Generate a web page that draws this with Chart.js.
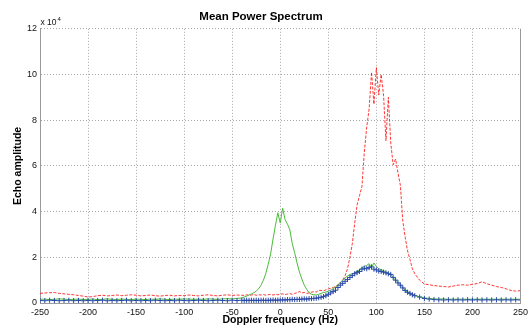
<!DOCTYPE html>
<html>
<head>
<meta charset="utf-8">
<title>Mean Power Spectrum</title>
<script src="https://cdn.jsdelivr.net/npm/chart.js@4"></script>
<style>
  html, body { margin: 0; padding: 0; background: #fff; }
  canvas { display: block; }
</style>
</head>
<body>
<canvas id="spectrumChart" width="532" height="326"></canvas>
<script>
// Doppler frequency axis (Hz), finer spacing around the peaks
const freqHz = [
  -250, -245, -240, -235, -230, -225, -220, -215, -210, -205, -200,
  -195, -190, -185, -180, -175, -170, -165, -160, -155, -150, -145,
  -140, -135, -130, -125, -120, -115, -110, -105, -100, -95, -90,
  -85, -80, -75, -70, -65, -60, -55, -50, -45, -40,
  -37.5, -35, -32.5, -30, -27.5, -25, -22.5, -20, -17.5, -15, -12.5,
  -10, -7.5, -5, -2.5, 0, 2.5, 5, 7.5, 10, 12.5, 15,
  17.5, 20, 22.5, 25, 27.5, 30, 32.5, 35, 37.5, 40, 42.5,
  45, 47.5, 50, 52.5, 55, 57.5, 60, 62.5, 65, 67.5, 70,
  72.5, 75, 77.5, 80, 82.5, 85, 87.5, 90, 92.5, 95, 97.5,
  100, 102.5, 105, 107.5, 110, 112.5, 115, 117.5, 120, 122.5, 125,
  127.5, 130, 132.5, 135, 137.5, 140,
  145, 150, 155, 160, 165, 170, 175, 180, 185, 190, 195,
  200, 205, 210, 215, 220, 225, 230, 235, 240, 245, 250
];

// echo amplitudes, in units of 10^4
const redSeries = [
  0.42, 0.44, 0.45, 0.46, 0.42, 0.40, 0.38, 0.36, 0.33, 0.30, 0.26,
  0.28, 0.32, 0.34, 0.31, 0.33, 0.35, 0.32, 0.34, 0.36, 0.34, 0.31,
  0.33, 0.35, 0.32, 0.30, 0.33, 0.34, 0.31, 0.33, 0.32, 0.35, 0.33,
  0.31, 0.34, 0.36, 0.33, 0.31, 0.34, 0.36, 0.33, 0.35, 0.34,
  0.33, 0.36, 0.34, 0.35, 0.37, 0.34, 0.36, 0.35, 0.37, 0.34, 0.36,
  0.38, 0.35, 0.37, 0.36, 0.38, 0.40, 0.37, 0.39, 0.41, 0.38, 0.42,
  0.45, 0.50, 0.44, 0.46, 0.42, 0.44, 0.47, 0.50, 0.48, 0.55, 0.55,
  0.53, 0.58, 0.62, 0.64, 0.68, 0.72, 0.78, 0.88, 1.00, 1.20, 1.50,
  2.00, 2.60, 3.50, 4.30, 4.70, 5.10, 6.60, 7.70, 8.50, 10.1, 8.70,
  10.3, 9.10, 10.0, 9.10, 7.10, 9.00, 7.00, 6.05, 6.30, 5.70, 5.15,
  3.60, 2.88, 2.28, 1.90, 1.50, 1.28,
  1.00, 0.83, 0.80, 0.76, 0.74, 0.72, 0.70, 0.74, 0.78, 0.80, 0.78,
  0.82, 0.85, 0.93, 0.84, 0.78, 0.72, 0.68, 0.62, 0.55, 0.52, 0.54
];

const greenSeries = [
  0.16, 0.17, 0.15, 0.16, 0.18, 0.17, 0.15, 0.16, 0.17, 0.15, 0.16,
  0.17, 0.15, 0.16, 0.18, 0.16, 0.15, 0.17, 0.16, 0.15, 0.17, 0.16,
  0.15, 0.17, 0.16, 0.18, 0.16, 0.15, 0.17, 0.16, 0.18, 0.17, 0.16,
  0.17, 0.16, 0.18, 0.17, 0.16, 0.18, 0.19, 0.18, 0.20, 0.22,
  0.26, 0.30, 0.35, 0.40, 0.45, 0.52, 0.62, 0.78, 1.00, 1.30, 1.70,
  2.15, 2.80, 3.40, 3.95, 3.50, 4.15, 3.65, 3.45, 3.20, 2.60, 2.20,
  1.75, 1.35, 1.05, 0.78, 0.60, 0.45, 0.38, 0.36, 0.35, 0.38, 0.42,
  0.46, 0.48, 0.52, 0.56, 0.62, 0.70, 0.80, 0.90, 1.00, 1.10, 1.18,
  1.25, 1.28, 1.32, 1.40, 1.45, 1.55, 1.60, 1.65, 1.72, 1.55, 1.75,
  1.60, 1.50, 1.45, 1.42, 1.35, 1.30, 1.22, 1.12, 1.00, 0.90, 0.80,
  0.68, 0.55, 0.47, 0.40, 0.36, 0.32,
  0.27, 0.22, 0.20, 0.18, 0.17, 0.18, 0.16, 0.17, 0.16, 0.17, 0.16,
  0.17, 0.16, 0.17, 0.16, 0.17, 0.16, 0.17, 0.16, 0.17, 0.16, 0.17
];

const blueSeries = [
  0.11, 0.10, 0.12, 0.11, 0.10, 0.11, 0.12, 0.10, 0.11, 0.10, 0.11,
  0.10, 0.11, 0.12, 0.10, 0.11, 0.10, 0.11, 0.12, 0.10, 0.11, 0.10,
  0.11, 0.10, 0.12, 0.11, 0.10, 0.11, 0.10, 0.12, 0.11, 0.10, 0.11,
  0.12, 0.11, 0.10, 0.11, 0.12, 0.11, 0.10, 0.12, 0.11, 0.12,
  0.11, 0.12, 0.11, 0.12, 0.11, 0.12, 0.11, 0.12, 0.12, 0.11, 0.12,
  0.12, 0.13, 0.12, 0.13, 0.13, 0.14, 0.13, 0.15, 0.14, 0.16, 0.15,
  0.16, 0.16, 0.17, 0.18, 0.17, 0.19, 0.19, 0.20, 0.21, 0.23, 0.25,
  0.28, 0.32, 0.38, 0.44, 0.50, 0.56, 0.68, 0.78, 0.86, 0.95, 1.03,
  1.12, 1.20, 1.28, 1.33, 1.38, 1.48, 1.52, 1.50, 1.55, 1.58, 1.48,
  1.45, 1.40, 1.38, 1.35, 1.32, 1.28, 1.25, 1.12, 1.00, 0.88, 0.78,
  0.66, 0.55, 0.47, 0.42, 0.36, 0.32,
  0.26, 0.20, 0.17, 0.15, 0.14, 0.13, 0.14, 0.13, 0.14, 0.13, 0.14,
  0.13, 0.14, 0.13, 0.14, 0.13, 0.14, 0.13, 0.14, 0.13, 0.14, 0.13
];

const xTicks = [-250, -200, -150, -100, -50, 0, 50, 100, 150, 200, 250];
const yTicks = [0, 2, 4, 6, 8, 10, 12];

const FONT = "'Liberation Sans', Arial, Helvetica, sans-serif";
const toPoints = (values) => freqHz.map((f, i) => ({ x: f, y: values[i] }));

// "x 10^4" exponent label and the solid right frame edge
const frameExtras = {
    id: 'frameExtras',
    afterDraw(chart) {
        const { ctx, chartArea } = chart;
        ctx.save();
        ctx.strokeStyle = '#9a9a9a';
        ctx.lineWidth = 1;
        ctx.beginPath();
        ctx.moveTo(Math.round(chartArea.right) + 0.5, chartArea.top);
        ctx.lineTo(Math.round(chartArea.right) + 0.5, chartArea.bottom);
        ctx.stroke();

        ctx.fillStyle = '#111';
        ctx.textBaseline = 'alphabetic';
        ctx.font = `8.5px ${FONT}`;
        ctx.fillText('x 10', chartArea.left + 0.5, chartArea.top - 3.5);
        const w = ctx.measureText('x 10').width;
        ctx.font = `6px ${FONT}`;
        ctx.fillText('4', chartArea.left + 1.5 + w, chartArea.top - 7.5);
        ctx.restore();
    }
};

new Chart(document.getElementById('spectrumChart'), {
    type: 'scatter',
    data: {
        datasets: [
            {
                label: 'blue',
                data: toPoints(blueSeries),
                showLine: false,
                pointStyle: 'cross',
                pointRadius: 2.6,
                pointBorderWidth: 1,
                borderColor: '#2a4aa8',
                backgroundColor: '#2a4aa8',
                order: 1
            },
            {
                label: 'green',
                data: toPoints(greenSeries),
                showLine: true,
                borderColor: '#4cbb3c',
                borderWidth: 1,
                pointRadius: 0,
                tension: 0,
                order: 2
            },
            {
                label: 'red',
                data: toPoints(redSeries),
                showLine: true,
                borderColor: 'rgba(255, 20, 20, 0.85)',
                borderWidth: 1,
                borderDash: [3, 1.5],
                pointRadius: 0,
                tension: 0,
                order: 3
            }
        ]
    },
    options: {
        responsive: false,
        animation: false,
        events: [],
        layout: { padding: { top: 0, right: 10, bottom: 0, left: 0 } },
        plugins: {
            legend: { display: false },
            tooltip: { enabled: false },
            title: {
                display: true,
                text: 'Mean Power Spectrum',
                color: '#000',
                font: { family: FONT, size: 11.5, weight: 'bold', lineHeight: 1.2 },
                padding: { top: 10, bottom: 5 }
            }
        },
        scales: {
            x: {
                type: 'linear',
                min: -250,
                max: 250,
                afterBuildTicks: (scale) => { scale.ticks = xTicks.map(v => ({ value: v })); },
                afterFit: (scale) => { scale.height = 23; },
                ticks: {
                    color: '#111',
                    padding: 4,
                    maxRotation: 0,
                    autoSkip: false,
                    font: { family: FONT, size: 9 }
                },
                grid: { color: '#a8a8a8', lineWidth: 1, drawTicks: false },
                border: { display: true, color: '#9a9a9a', width: 1, dash: [1, 2] },
                title: {
                    display: true,
                    text: 'Doppler frequency (Hz)',
                    color: '#000',
                    font: { family: FONT, size: 10.5, weight: 'bold', lineHeight: 1.2 },
                    padding: { top: 0, bottom: 0 }
                }
            },
            y: {
                type: 'linear',
                min: 0,
                max: 12,
                afterBuildTicks: (scale) => { scale.ticks = yTicks.map(v => ({ value: v })); },
                afterFit: (scale) => { scale.width = 40; },
                ticks: {
                    color: '#111',
                    padding: 3,
                    font: { family: FONT, size: 9 }
                },
                grid: { color: '#a8a8a8', lineWidth: 1, drawTicks: false },
                border: { display: true, color: '#9a9a9a', width: 1, dash: [1, 2] },
                title: {
                    display: true,
                    text: 'Echo amplitude',
                    color: '#000',
                    font: { family: FONT, size: 10.5, weight: 'bold', lineHeight: 1.2 },
                    padding: { top: 12, bottom: 0 }
                }
            }
        }
    },
    plugins: [frameExtras]
});
</script>
</body>
</html>
